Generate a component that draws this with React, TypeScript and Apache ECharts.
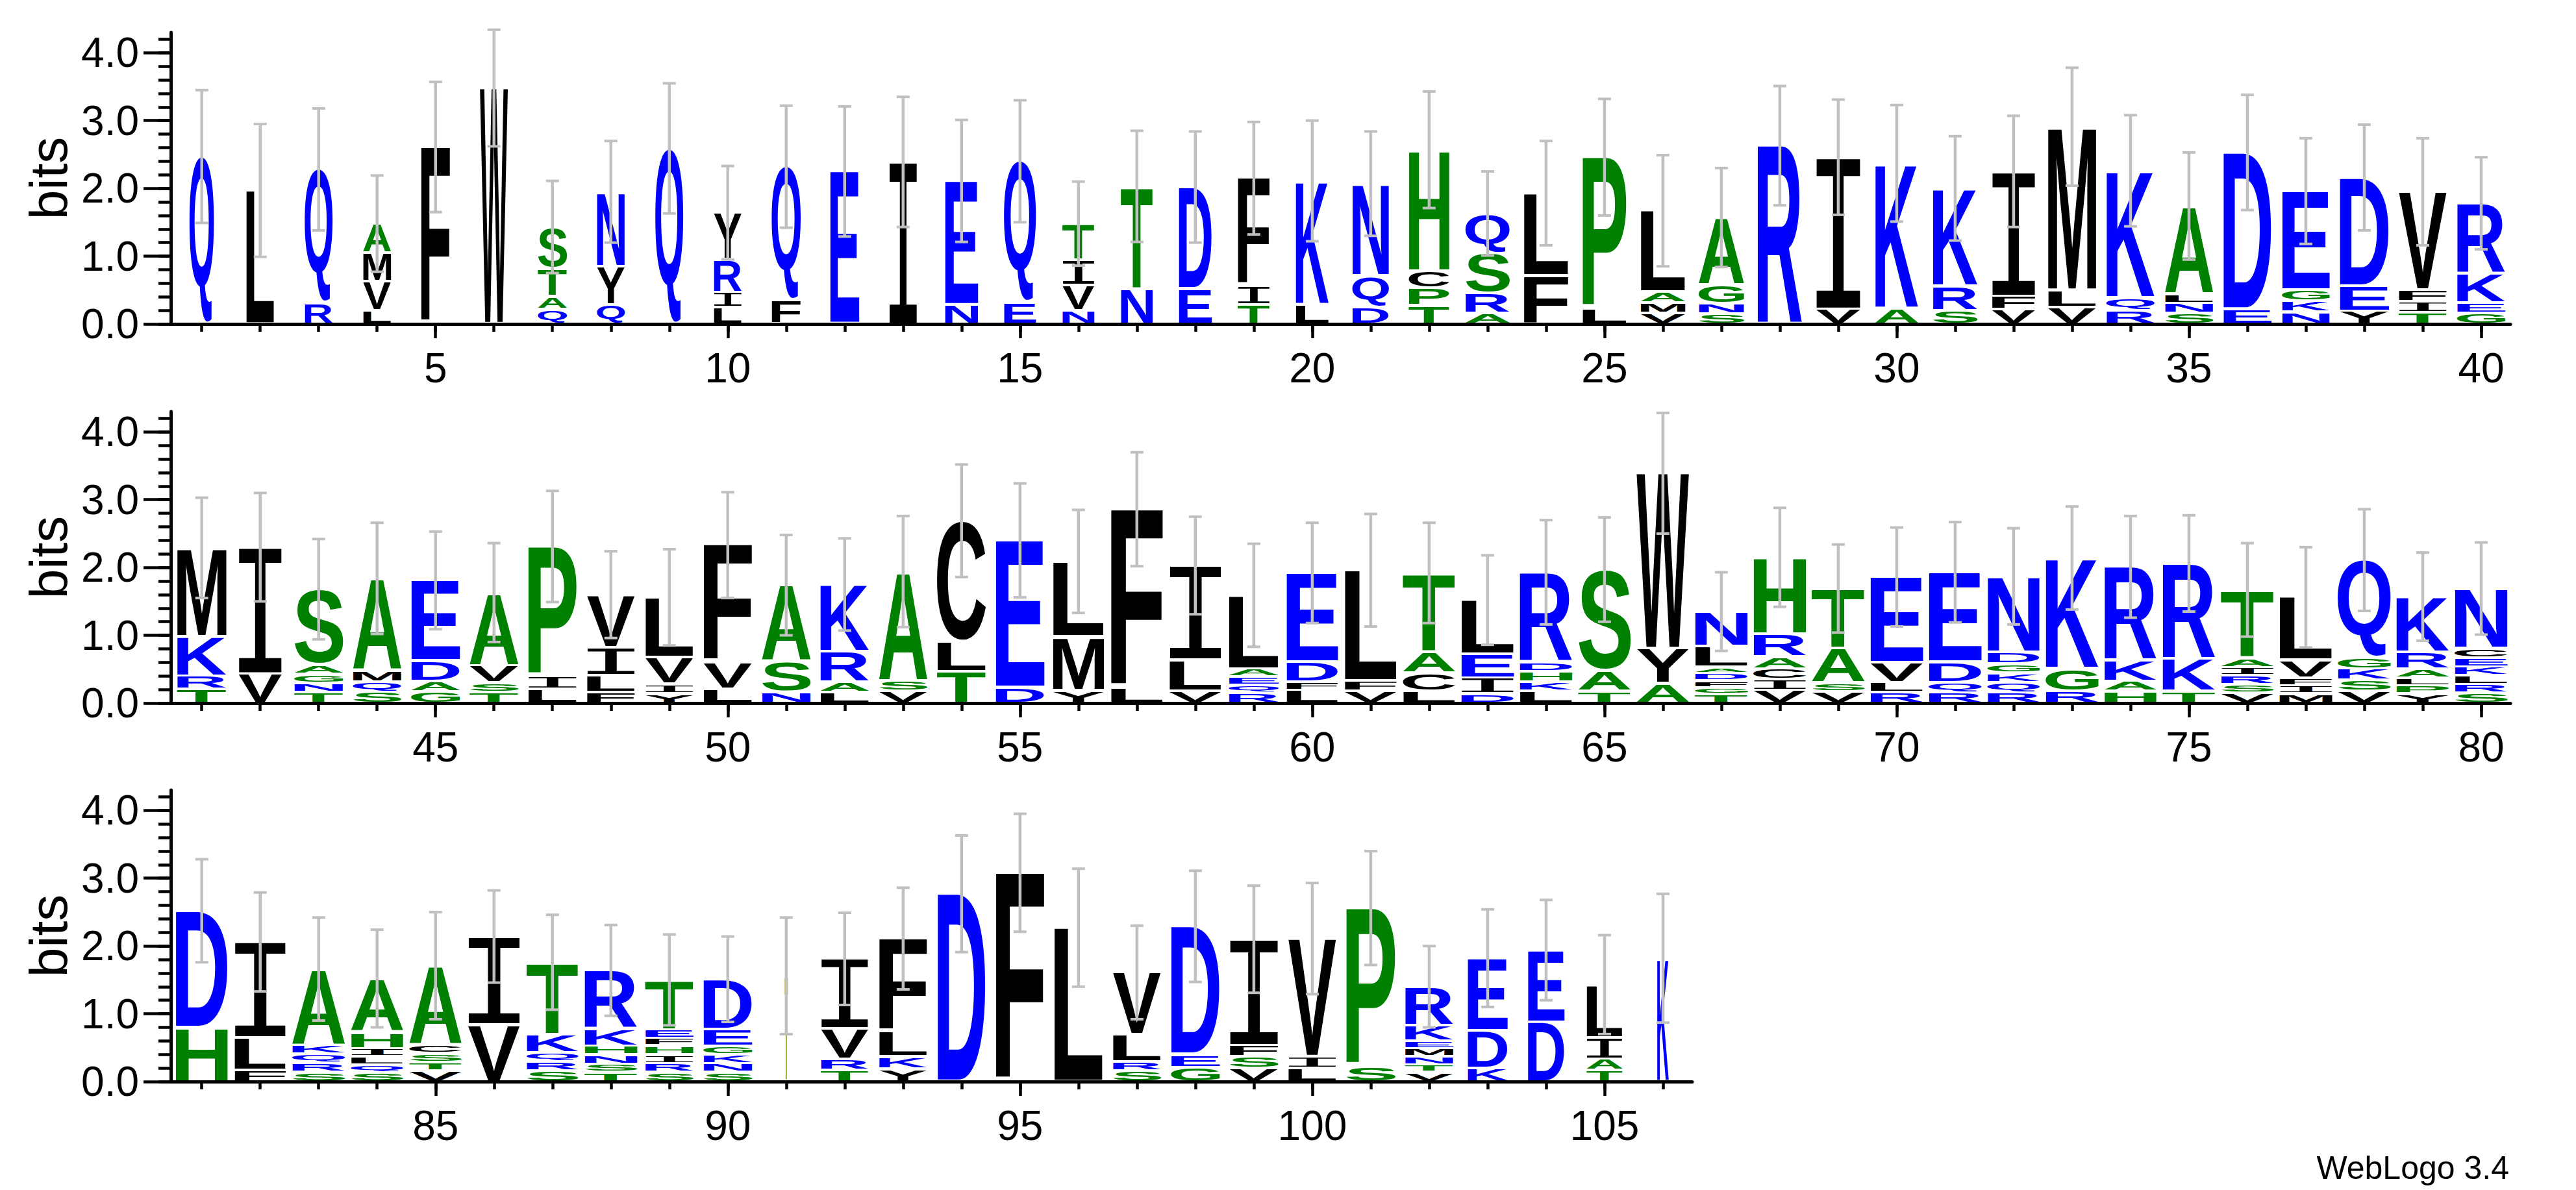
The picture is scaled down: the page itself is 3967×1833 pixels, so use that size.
import { useEffect, useRef } from "react";
import * as echarts from "echarts";

type Stack = [string, number][];

// ---------- DATA ----------
// Each position: letters from bottom to top with their height in bits.
const stacks1: Stack[] = [
  [["Q", 2.47]],
  [["L", 1.97]],
  [["R", 0.31], ["Q", 1.97]],
  [["L", 0.2], ["V", 0.43], ["M", 0.42], ["A", 0.43]],
  [["F", 2.61]],
  [["W", 3.48]],
  [["Q", 0.22], ["A", 0.19], ["T", 0.41], ["S", 0.61]],
  [["Q", 0.29], ["Y", 0.56], ["N", 1.1]],
  [["Q", 2.59]],
  [["L", 0.25], ["I", 0.22], ["R", 0.48], ["Y", 0.69]],
  [["F", 0.35], ["Q", 1.97]],
  [["E", 2.25]],
  [["I", 2.39]],
  [["N", 0.28], ["E", 1.83]],
  [["E", 0.32], ["Q", 2.08]],
  [["N", 0.2], ["V", 0.37], ["I", 0.37], ["T", 0.54]],
  [["N", 0.52], ["T", 1.51]],
  [["E", 0.52], ["D", 1.5]],
  [["T", 0.29], ["I", 0.27], ["F", 1.59]],
  [["L", 0.28], ["K", 1.83]],
  [["D", 0.25], ["Q", 0.46], ["N", 1.36]],
  [["T", 0.27], ["P", 0.26], ["C", 0.25], ["H", 1.79]],
  [["A", 0.16], ["R", 0.3], ["S", 0.59], ["Q", 0.58]],
  [["F", 0.71], ["L", 1.22]],
  [["L", 0.23], ["P", 2.23]],
  [["V", 0.16], ["M", 0.15], ["A", 0.16], ["L", 1.2]],
  [["S", 0.15], ["N", 0.15], ["G", 0.28], ["A", 0.99]],
  [["R", 2.63]],
  [["V", 0.23], ["I", 2.23]],
  [["A", 0.23], ["K", 2.14]],
  [["S", 0.2], ["R", 0.36], ["K", 1.44]],
  [["V", 0.22], ["F", 0.2], ["I", 1.83]],
  [["V", 0.25], ["L", 0.24], ["M", 2.42]],
  [["R", 0.2], ["Q", 0.18], ["K", 1.88]],
  [["S", 0.16], ["N", 0.15], ["L", 0.14], ["A", 1.29]],
  [["E", 0.22], ["D", 2.31]],
  [["N", 0.18], ["K", 0.16], ["G", 0.16], ["E", 1.46]],
  [["Y", 0.19], ["E", 0.37], ["D", 1.6]],
  [["T", 0.17], ["I", 0.16], ["F", 0.17], ["V", 1.45]],
  [["G", 0.16], ["E", 0.15], ["K", 0.44], ["R", 1.03]],
];
const errors1 = [0.98, 0.98, 0.9, 0.71, 0.96, 0.86, 0.68, 0.75, 0.96, 0.69, 0.9, 0.96, 0.96, 0.9, 0.9, 0.62, 0.82, 0.82, 0.83, 0.89, 0.77, 0.86, 0.62, 0.77, 0.86, 0.82, 0.73, 0.88, 0.85, 0.86, 0.77, 0.82, 0.87, 0.82, 0.79, 0.85, 0.78, 0.78, 0.79, 0.68];
const widths1 = [0.42, 0.48, 0.48, 0.48, 0.5, 0.48, 0.5, 0.48, 0.48, 0.48, 0.5, 0.5, 0.48, 0.57, 0.55, 0.55, 0.55, 0.57, 0.55, 0.57, 0.63, 0.7, 0.76, 0.77, 0.76, 0.77, 0.78, 0.77, 0.77, 0.74, 0.77, 0.75, 0.83, 0.83, 0.83, 0.83, 0.82, 0.85, 0.83, 0.83];

const stacks2: Stack[] = [
  [["T", 0.21], ["R", 0.19], ["K", 0.58], ["M", 1.31]],
  [["V", 0.44], ["I", 1.86]],
  [["T", 0.16], ["N", 0.14], ["G", 0.13], ["A", 0.14], ["S", 1.11]],
  [["S", 0.17], ["Q", 0.15], ["M", 0.16], ["A", 1.36]],
  [["G", 0.17], ["A", 0.15], ["D", 0.3], ["E", 1.19]],
  [["T", 0.16], ["S", 0.14], ["V", 0.26], ["A", 1.07]],
  [["L", 0.21], ["I", 0.19], ["P", 1.91]],
  [["F", 0.16], ["L", 0.25], ["I", 0.41], ["V", 0.78]],
  [["Y", 0.14], ["I", 0.14], ["V", 0.39], ["L", 0.89]],
  [["L", 0.21], ["V", 0.39], ["F", 1.73]],
  [["N", 0.16], ["S", 0.45], ["A", 1.13]],
  [["L", 0.16], ["A", 0.15], ["R", 0.45], ["K", 0.99]],
  [["V", 0.18], ["S", 0.15], ["A", 1.61]],
  [["T", 0.47], ["L", 0.44], ["C", 1.78]],
  [["D", 0.23], ["E", 2.17]],
  [["Y", 0.19], ["M", 0.79], ["L", 1.11]],
  [["L", 0.23], ["F", 2.63]],
  [["V", 0.18], ["L", 0.46], ["I", 1.39]],
  [["R", 0.15], ["Q", 0.12], ["E", 0.12], ["A", 0.12], ["L", 1.08]],
  [["L", 0.19], ["F", 0.12], ["D", 0.3], ["E", 1.31]],
  [["V", 0.18], ["F", 0.15], ["L", 1.63]],
  [["L", 0.18], ["C", 0.27], ["A", 0.31], ["T", 1.16]],
  [["D", 0.14], ["I", 0.23], ["E", 0.35], ["L", 0.8]],
  [["L", 0.18], ["K", 0.14], ["H", 0.15], ["D", 0.14], ["R", 1.32]],
  [["T", 0.18], ["A", 0.3], ["S", 1.49]],
  [["A", 0.29], ["Y", 0.51], ["W", 2.59]],
  [["T", 0.13], ["G", 0.1], ["F", 0.1], ["D", 0.11], ["A", 0.09], ["L", 0.31], ["N", 0.51]],
  [["V", 0.19], ["I", 0.16], ["C", 0.16], ["A", 0.18], ["R", 0.33], ["H", 1.13]],
  [["V", 0.17], ["S", 0.13], ["A", 0.51], ["T", 0.88]],
  [["R", 0.16], ["L", 0.15], ["V", 0.29], ["E", 1.26]],
  [["R", 0.16], ["Q", 0.15], ["D", 0.3], ["E", 1.32]],
  [["R", 0.16], ["Q", 0.15], ["K", 0.14], ["G", 0.13], ["D", 0.17], ["N", 1.12]],
  [["R", 0.18], ["G", 0.33], ["K", 1.63]],
  [["H", 0.18], ["A", 0.15], ["K", 0.31], ["R", 1.37]],
  [["T", 0.18], ["K", 0.48], ["R", 1.4]],
  [["V", 0.15], ["S", 0.13], ["R", 0.13], ["I", 0.12], ["A", 0.14], ["T", 1.0]],
  [["M", 0.14], ["I", 0.12], ["F", 0.11], ["V", 0.26], ["L", 0.93]],
  [["V", 0.18], ["S", 0.16], ["K", 0.17], ["G", 0.16], ["Q", 1.44]],
  [["Y", 0.14], ["P", 0.12], ["L", 0.11], ["A", 0.14], ["R", 0.24], ["K", 0.82]],
  [["S", 0.15], ["R", 0.13], ["L", 0.13], ["K", 0.13], ["E", 0.13], ["C", 0.14], ["N", 0.88]],
];
const errors2 = [0.74, 0.8, 0.74, 0.82, 0.72, 0.73, 0.82, 0.64, 0.71, 0.78, 0.74, 0.68, 0.82, 0.83, 0.84, 0.76, 0.84, 0.72, 0.76, 0.74, 0.83, 0.74, 0.66, 0.77, 0.77, 0.89, 0.58, 0.73, 0.65, 0.73, 0.74, 0.71, 0.76, 0.75, 0.71, 0.69, 0.74, 0.75, 0.65, 0.68];
const widths2 = [0.85, 0.75, 0.84, 0.83, 0.84, 0.84, 0.84, 0.83, 0.83, 0.84, 0.84, 0.84, 0.83, 0.84, 0.84, 0.88, 0.9, 0.9, 0.86, 0.89, 0.9, 0.9, 0.91, 0.91, 0.9, 0.9, 0.91, 0.91, 0.91, 0.91, 0.91, 0.9, 0.91, 0.9, 0.91, 0.91, 0.91, 0.91, 0.91, 0.91];

const stacks3: Stack[] = [
  [["H", 0.8], ["D", 1.72]],
  [["F", 0.17], ["L", 0.48], ["I", 1.41]],
  [["S", 0.14], ["R", 0.13], ["Q", 0.14], ["K", 0.13], ["A", 1.12]],
  [["S", 0.14], ["Q", 0.11], ["L", 0.12], ["I", 0.12], ["H", 0.24], ["A", 0.79]],
  [["V", 0.16], ["T", 0.13], ["S", 0.13], ["C", 0.12], ["A", 1.17]],
  [["V", 0.84], ["I", 1.3]],
  [["S", 0.16], ["R", 0.13], ["Q", 0.14], ["K", 0.27], ["T", 1.06]],
  [["T", 0.14], ["S", 0.12], ["N", 0.14], ["H", 0.13], ["K", 0.25], ["R", 0.86]],
  [["S", 0.14], ["R", 0.13], ["I", 0.13], ["H", 0.13], ["F", 0.11], ["E", 0.13], ["T", 0.73]],
  [["S", 0.14], ["N", 0.13], ["K", 0.13], ["G", 0.13], ["E", 0.24], ["D", 0.74]],
  [["T", 1.56]],
  [["T", 0.17], ["R", 0.16], ["V", 0.45], ["I", 1.03]],
  [["Y", 0.19], ["K", 0.18], ["L", 0.37], ["F", 1.37]],
  [["D", 2.77]],
  [["F", 3.08]],
  [["L", 2.27]],
  [["S", 0.16], ["R", 0.13], ["L", 0.4], ["V", 0.92]],
  [["G", 0.21], ["E", 0.19], ["D", 1.89]],
  [["V", 0.2], ["S", 0.17], ["F", 0.17], ["I", 1.56]],
  [["L", 0.2], ["I", 0.17], ["V", 1.74]],
  [["S", 0.23], ["P", 2.33]],
  [["V", 0.14], ["T", 0.11], ["N", 0.12], ["M", 0.12], ["E", 0.11], ["K", 0.23], ["R", 0.57]],
  [["K", 0.2], ["D", 0.55], ["E", 1.07]],
  [["D", 0.88], ["E", 1.06]],
  [["T", 0.17], ["A", 0.17], ["I", 0.31], ["L", 0.78]],
  [["K", 1.82]],
];
const errors3 = [0.76, 0.73, 0.76, 0.72, 0.79, 0.68, 0.7, 0.67, 0.67, 0.63, 0.86, 0.68, 0.75, 0.86, 0.87, 0.87, 0.69, 0.82, 0.79, 0.82, 0.84, 0.6, 0.72, 0.74, 0.73, 0.95];
const widths3 = [0.9, 0.89, 0.91, 0.9, 0.9, 0.9, 0.89, 0.91, 0.83, 0.84, 0.05, 0.82, 0.83, 0.83, 0.84, 0.84, 0.83, 0.84, 0.84, 0.83, 0.85, 0.83, 0.69, 0.63, 0.62, 0.2];

const rowStarts = [1, 41, 81];
const xLabels1 = [5, 10, 15, 20, 25, 30, 35, 40];
const xLabels2 = [45, 50, 55, 60, 65, 70, 75, 80];
const xLabels3 = [85, 90, 95, 100, 105];
const yLabels = [0, 1, 2, 3, 4];
const yMinorTicks = [0, 0.2, 0.4, 0.6, 0.8, 1, 1.2, 1.4, 1.6, 1.8, 2, 2.2, 2.4, 2.6, 2.8, 3, 3.2, 3.4, 3.6, 3.8, 4, 4.2];

const hydrophilic = "RKDENQ";
const neutral = "SGHTAP";

// ---------- STYLE / LAYOUT ----------
const LETTER_FAMILY = '"Liberation Sans", Arial, Helvetica, sans-serif';
const I_FAMILY = '"DejaVu Sans Mono", "Liberation Mono", monospace';
const LABEL_FAMILY = '"Liberation Sans", Arial, Helvetica, sans-serif';
const GLYPH_SIZE = 100;
const NS = "http://www.w3.org/2000/svg";

const layout = [
  { top: 50, left: 263, width: 3603, min: 0.47, max: 40.5 },
  { top: 634, left: 263, width: 3603, min: 40.47, max: 80.5 },
  { top: 1217, left: 263, width: 2343, min: 80.47, max: 106.5 },
];
const GRID_H = 449;

function colorOf(ch: string) {
  if (hydrophilic.includes(ch)) return "#0000ff";
  if (neutral.includes(ch)) return "#008000";
  return "#000000";
}
function familyFor(ch: string) {
  return ch === "I" ? I_FAMILY : LETTER_FAMILY;
}
function weightFor(ch: string) {
  return ch === "I" ? "normal" : "bold";
}

type Box = { left: number; right: number; top: number; bottom: number };

function centralShift(family: string, weight: string): number {
  try {
    const svg = document.createElementNS(NS, "svg") as SVGSVGElement;
    svg.setAttribute("width", "800");
    svg.setAttribute("height", "400");
    svg.style.position = "absolute";
    svg.style.left = "0px";
    svg.style.top = "0px";
    svg.style.visibility = "hidden";
    const make = (central: boolean) => {
      const t = document.createElementNS(NS, "text") as SVGTextElement;
      t.setAttribute("x", "20");
      t.setAttribute("y", "200");
      if (central) t.setAttribute("dominant-baseline", "central");
      t.setAttribute("style", `font: ${weight} ${GLYPH_SIZE}px ${family}`);
      t.textContent = "HQ";
      svg.appendChild(t);
      return t;
    };
    const a = make(false);
    const c = make(true);
    document.body.appendChild(svg);
    const s = c.getBBox().y - a.getBBox().y;
    document.body.removeChild(svg);
    return s;
  } catch {
    return NaN;
  }
}

function measureGlyphs(letters: string[]): Record<string, Box> {
  const canvas = document.createElement("canvas");
  const ctx = canvas.getContext("2d")!;
  const shifts: Record<string, number> = {};
  const out: Record<string, Box> = {};
  for (const ch of letters) {
    const fam = familyFor(ch);
    const wt = weightFor(ch);
    const key = wt + "|" + fam;
    ctx.font = `${wt} ${GLYPH_SIZE}px ${fam}`;
    ctx.textAlign = "left";
    ctx.textBaseline = "alphabetic";
    const m = ctx.measureText(ch);
    if (shifts[key] === undefined) {
      let s = centralShift(fam, wt);
      if (!(s > 5 && s < 70)) {
        s = ((m as any).fontBoundingBoxAscent - (m as any).fontBoundingBoxDescent) / 2;
        if (!(s > 5 && s < 70)) s = 34.7;
      }
      shifts[key] = s;
    }
    const s = shifts[key];
    out[ch] = {
      left: -m.actualBoundingBoxLeft,
      right: m.actualBoundingBoxRight,
      top: s - m.actualBoundingBoxAscent,
      bottom: s + m.actualBoundingBoxDescent,
    };
  }
  return out;
}

function makeRenderItem(stacks: Stack[], widths: number[], errors: number[], glyphs: Record<string, Box>) {
  return (params: any, api: any) => {
    const i = params.dataIndex;
    const pos = api.value(0);
    const stack = stacks[i];
    const xc = api.coord([pos, 0])[0];
    const half = api.size([widths[i], 0])[0] / 2;
    const children: any[] = [];
    let cum = 0;
    for (const [ch, h] of stack) {
      const yb = api.coord([pos, cum])[1];
      const yt = api.coord([pos, cum + h])[1];
      cum += h;
      const top = yt + 2;
      const bottom = yb - 2;
      if (bottom - top < 1.5) continue;
      const g = glyphs[ch];
      const sx = (2 * half) / (g.right - g.left);
      const sy = (bottom - top) / (g.bottom - g.top);
      children.push({
        type: "text",
        x: xc - half - sx * g.left,
        y: top - sy * g.top,
        scaleX: sx,
        scaleY: sy,
        silent: true,
        style: {
          text: ch,
          x: 0,
          y: 0,
          fill: colorOf(ch),
          fontSize: GLYPH_SIZE,
          fontWeight: weightFor(ch),
          fontFamily: familyFor(ch),
          align: "left",
          verticalAlign: "middle",
        },
      });
    }
    const e = errors[i];
    const yHi = api.coord([pos, cum + e])[1];
    const yLo = api.coord([pos, cum - e])[1];
    const bar = { stroke: "#c0c0c0", lineWidth: 4.5 };
    const cap = { stroke: "#c0c0c0", lineWidth: 4 };
    children.push({ type: "line", silent: true, shape: { x1: xc, y1: yHi, x2: xc, y2: yLo }, style: bar });
    children.push({ type: "line", silent: true, shape: { x1: xc - 10, y1: yHi, x2: xc + 10, y2: yHi }, style: cap });
    children.push({ type: "line", silent: true, shape: { x1: xc - 10, y1: yLo, x2: xc + 10, y2: yLo }, style: cap });
    return { type: "group", children };
  };
}

export default function App() {
  const ref = useRef<HTMLDivElement>(null);

  useEffect(() => {
    document.body.style.margin = "0";
    if (!ref.current) return;
    const allStacks = [stacks1, stacks2, stacks3];
    const allErrors = [errors1, errors2, errors3];
    const allWidths = [widths1, widths2, widths3];
    const allLabels = [xLabels1, xLabels2, xLabels3];

    const letterSet = new Set<string>();
    allStacks.forEach((r) => r.forEach((s) => s.forEach(([c]) => letterSet.add(c))));
    const glyphs = measureGlyphs(Array.from(letterSet));

    const chart = echarts.init(ref.current, undefined, { renderer: "svg" });

    const grids: any[] = [];
    const xAxes: any[] = [];
    const yAxes: any[] = [];
    const series: any[] = [];
    const tickStyle = { color: "#000", width: 4.5 };

    layout.forEach((L, r) => {
      const positions = allStacks[r].map((_, i) => rowStarts[r] + i);
      grids.push({ left: L.left, top: L.top, width: L.width, height: GRID_H, containLabel: false });
      xAxes.push({
        type: "value",
        gridIndex: r,
        min: L.min,
        max: L.max,
        position: "bottom",
        axisLine: { show: true, onZero: false, lineStyle: { color: "#000", width: 5 } },
        axisTick: { show: true, customValues: positions, length: 12, lineStyle: tickStyle },
        axisLabel: { show: false },
        splitLine: { show: false },
      });
      xAxes.push({
        type: "value",
        gridIndex: r,
        min: L.min,
        max: L.max,
        position: "bottom",
        axisLine: { show: false, onZero: false },
        axisTick: { show: true, customValues: allLabels[r], length: 22, lineStyle: tickStyle },
        axisLabel: {
          show: true,
          customValues: allLabels[r],
          margin: 36,
          fontSize: 64,
          color: "#000",
          fontFamily: LABEL_FAMILY,
          formatter: (v: number) => String(Math.round(v)),
        },
        splitLine: { show: false },
      });
      yAxes.push({
        type: "value",
        gridIndex: r,
        min: 0,
        max: 4.3,
        position: "left",
        axisLine: { show: true, onZero: false, lineStyle: { color: "#000", width: 5 } },
        axisTick: { show: true, customValues: yMinorTicks, length: 19, lineStyle: tickStyle },
        axisLabel: { show: false },
        splitLine: { show: false },
        name: "bits",
        nameLocation: "middle",
        nameRotate: 90,
        nameGap: 148,
        nameTextStyle: { fontSize: 82, color: "#000", fontFamily: LABEL_FAMILY },
      });
      yAxes.push({
        type: "value",
        gridIndex: r,
        min: 0,
        max: 4.3,
        position: "left",
        axisLine: { show: false, onZero: false },
        axisTick: { show: true, customValues: yLabels, length: 42, lineStyle: tickStyle },
        axisLabel: {
          show: true,
          customValues: yLabels,
          margin: 49,
          fontSize: 64,
          color: "#000",
          fontFamily: LABEL_FAMILY,
          formatter: (v: number) => v.toFixed(1),
        },
        splitLine: { show: false },
      });
      series.push({
        type: "custom",
        xAxisIndex: 2 * r,
        yAxisIndex: 2 * r,
        silent: true,
        clip: false,
        data: positions.map((p, i) => [p, allStacks[r][i].reduce((a, [, h]) => a + h, 0)]),
        renderItem: makeRenderItem(allStacks[r], allWidths[r], allErrors[r], glyphs),
      });
    });

    chart.setOption({
      animation: false,
      backgroundColor: "#ffffff",
      grid: grids,
      xAxis: xAxes,
      yAxis: yAxes,
      series,
      graphic: [
        {
          type: "text",
          x: 3864,
          y: 1799,
          silent: true,
          style: {
            text: "WebLogo 3.4",
            fontSize: 50,
            fontFamily: LABEL_FAMILY,
            fill: "#000",
            align: "right",
            verticalAlign: "middle",
          },
        },
      ],
    });

    return () => chart.dispose();
  }, []);

  return (
    <div
      ref={ref}
      style={{ position: "fixed", left: 0, top: 0, width: 3967, height: 1833, background: "#fff" }}
    />
  );
}
